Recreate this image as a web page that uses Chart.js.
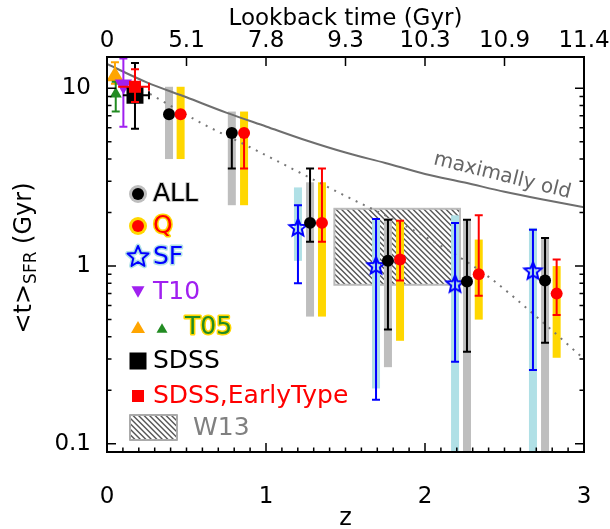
<!DOCTYPE html>
<html>
<head>
<meta charset="utf-8">
<script src="https://cdn.jsdelivr.net/npm/chart.js@4.4.0/dist/chart.umd.min.js"></script>
<style>
  html, body { margin: 0; padding: 0; background: #fff; }
</style>
</head>
<body>
<canvas id="chart" width="610" height="529"></canvas>
<script>
// values (z, <t>_SFR in Gyr)
const allZ = [0.39, 0.785, 1.277, 1.767, 2.264, 2.755];
const allT = [7.15, 5.6, 1.75, 1.07, 0.82, 0.83];
const allErrLo = [null, 3.54, 1.37, 0.44, 0.33, 0.37];
const allErrHi = [null, 5.6, 3.54, 1.82, 1.82, 1.44];
const allBandLo = [4.0, 2.2, 0.52, 0.27, 0.05, 0.05];
const allBandHi = [10.2, 7.4, 2.96, 1.86, 1.84, 1.43];

const qZ = [0.463, 0.862, 1.352, 1.843, 2.338, 2.828];
const qT = [7.15, 5.6, 1.75, 1.09, 0.90, 0.70];
const qErrLo = [null, 3.54, 1.37, 0.83, 0.68, 0.53];
const qErrHi = [null, 5.6, 3.54, 1.80, 1.93, 1.09];
const qBandLo = [4.0, 2.2, 0.52, 0.38, 0.50, 0.305];
const qBandHi = [10.2, 7.4, 2.96, 1.82, 1.41, 1.0];

const sfZ = [1.201, 1.692, 2.189, 2.679];
const sfT = [1.64, 1.0, 0.79, 0.935];
const sfErrLo = [0.80, 0.177, 0.29, 0.26];
const sfErrHi = [2.2, 1.84, 1.75, 1.6];
const sfBandLo = [1.07, 0.205, 0.05, 0.05];
const sfBandHi = [2.77, 1.86, 1.93, 1.64];

const t10Z = [0.103], t10T = [10.5], t10Lo = [6.07], t10Hi = [14.7];
const t05aZ = [0.05], t05aT = [11.7], t05aLo = [10.6], t05aHi = [14.0];
const t05bZ = [0.055], t05bT = [9.3], t05bLo = [7.4], t05bHi = [10.9];
const sdssZ = [0.176], sdssT = [9.14], sdssLo = [5.93], sdssHi = [13.9], sdssZLo = [0.1], sdssZHi = [0.264];
const etZ = [0.176], etT = [10.2], etLo = [8.37], etHi = [12.8], etZLo = [0.07], etZHi = [0.264];

const w13Z = [1.43, 2.22];
const w13T = [0.785, 2.1];

const maxOldZ = [0, 0.25, 0.5, 0.75, 1, 1.25, 1.5, 1.75, 2, 2.25, 2.5, 2.75, 3];
const maxOldT = [13.7, 10.8, 8.9, 7.3, 6.1, 5.1, 4.35, 3.8, 3.3, 2.95, 2.62, 2.36, 2.14];

const dotZ = [0.27, 0.6, 0.9, 1.2, 1.5, 1.8, 2.1, 2.4, 2.7, 3.0];
const dotT = [9.3, 6.33, 4.66, 3.4, 2.48, 1.83, 1.30, 0.87, 0.52, 0.30];

const zTicks = [0, 1, 2, 3];
const topTicks = [0, 0.5, 1, 1.5, 2, 2.5, 3];
const lookbackLabels = ['0', '5.1', '7.8', '9.3', '10.3', '10.9', '11.4'];
const yTicks = [0.1, 1, 10];

const FONT = 'DejaVu Sans';
const GRAY = '#bebebe', GOLD = '#ffd700', LBLUE = '#b0e0e6';
const PURPLE = '#a020f0', ORANGE = '#ffa500', GREEN = '#228b22';

function pts(xs, ys) {
    return xs.map((x, i) => ({ x: x, y: ys[i] }));
}

function starPath(g, cx, cy, R, r) {
    g.beginPath();
    for (let i = 0; i < 10; i++) {
        const a = -Math.PI / 2 + i * Math.PI / 5;
        const rr = i % 2 ? r : R;
        g.lineTo(cx + rr * Math.cos(a), cy + rr * Math.sin(a));
    }
    g.closePath();
}

function makeStar(R) {
    const c = document.createElement('canvas');
    c.width = c.height = Math.ceil(2 * R + 6);
    const g = c.getContext('2d');
    starPath(g, c.width / 2, c.height / 2, R, R * 0.45);
    g.strokeStyle = '#0000ff';
    g.lineWidth = 2;
    g.stroke();
    return c;
}

// shaded bands behind the points
const bandSets = [
    { z: sfZ, lo: sfBandLo, hi: sfBandHi, color: LBLUE },
    { z: allZ, lo: allBandLo, hi: allBandHi, color: GRAY },
    { z: qZ, lo: qBandLo, hi: qBandHi, color: GOLD }
];

const backgroundPlugin = {
    id: 'background',
    beforeDatasetsDraw(chart) {
        const ctx = chart.ctx, x = chart.scales.x, y = chart.scales.y, a = chart.chartArea;
        ctx.save();
        ctx.beginPath();
        ctx.rect(a.left, a.top, a.right - a.left, a.bottom - a.top);
        ctx.clip();

        // W13 hatched box
        const bx0 = x.getPixelForValue(w13Z[0]), bx1 = x.getPixelForValue(w13Z[1]);
        const by0 = y.getPixelForValue(w13T[1]), by1 = y.getPixelForValue(w13T[0]);
        ctx.save();
        ctx.beginPath();
        ctx.rect(bx0, by0, bx1 - bx0, by1 - by0);
        ctx.clip();
        ctx.strokeStyle = '#555';
        ctx.lineWidth = 1.4;
        for (let d = -(by1 - by0); d < bx1 - bx0; d += 5.5) {
            ctx.beginPath();
            ctx.moveTo(bx0 + d, by0);
            ctx.lineTo(bx0 + d + (by1 - by0), by1);
            ctx.stroke();
        }
        ctx.restore();
        ctx.strokeStyle = '#bbb';
        ctx.lineWidth = 2;
        ctx.strokeRect(bx0, by0, bx1 - bx0, by1 - by0);

        bandSets.forEach(b => {
            ctx.fillStyle = b.color;
            b.z.forEach((z, i) => {
                const px = x.getPixelForValue(z);
                const top = y.getPixelForValue(b.hi[i]);
                const bot = y.getPixelForValue(b.lo[i]);
                ctx.fillRect(px - 4, top, 8, bot - top);
            });
        });
        ctx.restore();
    }
};

const errorBarPlugin = {
    id: 'errorBars',
    beforeDatasetDraw(chart, args) {
        const ds = chart.data.datasets[args.index];
        if (!ds.err) return;
        const ctx = chart.ctx, x = chart.scales.x, y = chart.scales.y, a = chart.chartArea;
        const e = ds.err;
        ctx.save();
        ctx.beginPath();
        ctx.rect(a.left, a.top, a.right - a.left, a.bottom - a.top);
        ctx.clip();
        ctx.strokeStyle = e.color;
        ctx.lineWidth = 2;
        ds.data.forEach((p, i) => {
            if (e.lo[i] == null) return;
            const px = x.getPixelForValue(p.x);
            const yl = y.getPixelForValue(e.lo[i]);
            const yh = y.getPixelForValue(e.hi[i]);
            ctx.beginPath();
            ctx.moveTo(px, yl); ctx.lineTo(px, yh);
            ctx.moveTo(px - 4, yl); ctx.lineTo(px + 4, yl);
            if (e.hi[i] !== p.y) { ctx.moveTo(px - 4, yh); ctx.lineTo(px + 4, yh); }
            if (e.xlo) {
                const py = y.getPixelForValue(p.y);
                const xl = x.getPixelForValue(e.xlo[i]);
                const xh = x.getPixelForValue(e.xhi[i]);
                ctx.moveTo(xl, py); ctx.lineTo(xh, py);
                ctx.moveTo(xh, py - 4); ctx.lineTo(xh, py + 4);
            }
            ctx.stroke();
        });
        ctx.restore();
    }
};

function legendText(ctx, text, x, y, fill, outline, ow) {
    if (outline) {
        ctx.strokeStyle = outline;
        ctx.lineWidth = ow;
        ctx.lineJoin = 'round';
        ctx.strokeText(text, x, y);
    }
    ctx.fillStyle = fill;
    ctx.fillText(text, x, y);
}

function circle(ctx, x, y, r, color) {
    ctx.fillStyle = color;
    ctx.beginPath();
    ctx.arc(x, y, r, 0, Math.PI * 2);
    ctx.fill();
}

function triangle(ctx, x, y, w, color, down) {
    const h = w * 0.87, s = down ? -1 : 1;
    ctx.fillStyle = color;
    ctx.beginPath();
    ctx.moveTo(x, y - s * h / 2);
    ctx.lineTo(x + w / 2, y + s * h / 2);
    ctx.lineTo(x - w / 2, y + s * h / 2);
    ctx.closePath();
    ctx.fill();
}

const overlayPlugin = {
    id: 'overlay',
    afterDraw(chart) {
        const ctx = chart.ctx, x = chart.scales.x, y = chart.scales.y, a = chart.chartArea;
        ctx.save();

        // frame and inward ticks
        ctx.strokeStyle = '#000';
        ctx.lineWidth = 2;
        ctx.strokeRect(a.left, a.top, a.right - a.left, a.bottom - a.top);
        ctx.lineWidth = 1.5;
        ctx.beginPath();
        for (let k = 0; k <= 30; k++) {
            const px = x.getPixelForValue(k / 10);
            const len = k % 10 === 0 ? 9 : 4.5;
            ctx.moveTo(px, a.bottom); ctx.lineTo(px, a.bottom - len);
        }
        topTicks.forEach(v => {
            const px = x.getPixelForValue(v);
            ctx.moveTo(px, a.top); ctx.lineTo(px, a.top + 9);
        });
        for (let d = -2; d <= 1; d++) {
            for (let k = 1; k <= 9; k++) {
                const v = k * Math.pow(10, d);
                if (v < y.min || v > y.max) continue;
                const py = y.getPixelForValue(v);
                const len = k === 1 ? 9 : 4.5;
                ctx.moveTo(a.left, py); ctx.lineTo(a.left + len, py);
                ctx.moveTo(a.right, py); ctx.lineTo(a.right - len, py);
            }
        }
        ctx.stroke();

        // y axis title with subscript
        ctx.save();
        ctx.translate(31, 258);
        ctx.rotate(-Math.PI / 2);
        ctx.fillStyle = '#000';
        ctx.textBaseline = 'alphabetic';
        const big = '24px "' + FONT + '"', small = '17px "' + FONT + '"';
        ctx.font = big;
        const w1 = ctx.measureText('<t>').width;
        const w3 = ctx.measureText(' (Gyr)').width;
        ctx.font = small;
        const w2 = ctx.measureText('SFR').width;
        let cx = -(w1 + w2 + w3) / 2;
        ctx.font = big;
        ctx.fillText('<t>', cx, 0);
        cx += w1;
        ctx.font = small;
        ctx.fillText('SFR', cx, 5);
        cx += w2;
        ctx.font = big;
        ctx.fillText(' (Gyr)', cx, 0);
        ctx.restore();

        // label along the maximally-old curve
        ctx.save();
        ctx.translate(501, 181);
        ctx.rotate(14 * Math.PI / 180);
        ctx.font = '20px "' + FONT + '"';
        ctx.fillStyle = '#666';
        ctx.textAlign = 'center';
        ctx.fillText('maximally old', 0, 0);
        ctx.restore();

        // legend
        ctx.font = '25px "' + FONT + '"';
        ctx.textBaseline = 'middle';
        ctx.textAlign = 'left';
        const lx = 138, tx = 153;
        circle(ctx, lx, 194, 9, GRAY); circle(ctx, lx, 194, 6, '#000');
        legendText(ctx, 'ALL', tx, 194, '#000', '#ccc', 2);
        circle(ctx, lx, 226, 9, GOLD); circle(ctx, lx, 226, 6, '#f00');
        legendText(ctx, 'Q', tx, 226, '#f00', GOLD, 3);
        starPath(ctx, lx, 257, 11, 5);
        ctx.strokeStyle = LBLUE; ctx.lineWidth = 5; ctx.lineJoin = 'round'; ctx.stroke();
        starPath(ctx, lx, 257, 11, 5);
        ctx.strokeStyle = '#0000ff'; ctx.lineWidth = 2; ctx.stroke();
        legendText(ctx, 'SF', tx, 257, '#0000ff', LBLUE, 3);
        triangle(ctx, lx, 292, 13, PURPLE, true);
        legendText(ctx, 'T10', tx, 292, PURPLE);
        triangle(ctx, lx, 327, 14, ORANGE, false);
        triangle(ctx, 162, 328, 11, GREEN, false);
        legendText(ctx, 'T05', 185, 327, GREEN, GOLD, 3);
        ctx.fillStyle = '#000';
        ctx.fillRect(lx - 8.5, 361 - 8.5, 17, 17);
        legendText(ctx, 'SDSS', tx, 361, '#000');
        ctx.fillStyle = '#f00';
        ctx.fillRect(lx - 6, 396 - 6, 12, 12);
        legendText(ctx, 'SDSS,EarlyType', tx, 396, '#f00');
        // hatched legend box
        ctx.save();
        ctx.beginPath();
        ctx.rect(130, 415, 47, 25);
        ctx.clip();
        ctx.strokeStyle = '#555';
        ctx.lineWidth = 1.4;
        for (let d = -25; d < 47; d += 5.5) {
            ctx.beginPath();
            ctx.moveTo(130 + d, 415); ctx.lineTo(130 + d + 25, 440);
            ctx.stroke();
        }
        ctx.restore();
        ctx.strokeStyle = '#aaa';
        ctx.lineWidth = 2;
        ctx.strokeRect(130, 415, 47, 25);
        legendText(ctx, 'W13', 193, 428, '#808080');

        ctx.restore();
    }
};

// horizontal axes: fixed height and no extra room for labels at the ends
function fitX(height) {
    return s => {
        s.height = height;
        s.paddingLeft = 0;
        s.paddingRight = 0;
    };
}

const ctx = document.getElementById('chart').getContext('2d');
const starImg = makeStar(9);

new Chart(ctx, {
    type: 'scatter',
    data: {
        datasets: [
            {
                type: 'line', data: pts(maxOldZ, maxOldT), borderColor: '#6e6e6e', borderWidth: 2,
                pointRadius: 0, tension: 0.4, cubicInterpolationMode: 'monotone', order: 20
            },
            {
                type: 'line', data: pts(dotZ, dotT), borderColor: '#777', borderWidth: 2, borderDash: [2, 6],
                pointRadius: 0, tension: 0.4, cubicInterpolationMode: 'monotone', order: 19
            },
            {
                data: pts(sfZ, sfT), pointStyle: starImg, order: 12,
                err: { lo: sfErrLo, hi: sfErrHi, color: '#0000ff' }
            },
            {
                data: pts(allZ, allT), pointStyle: 'circle', pointRadius: 6, backgroundColor: '#000', borderWidth: 0, order: 11,
                err: { lo: allErrLo, hi: allErrHi, color: '#000' }
            },
            {
                data: pts(qZ, qT), pointStyle: 'circle', pointRadius: 6, backgroundColor: '#f00', borderWidth: 0, order: 10,
                err: { lo: qErrLo, hi: qErrHi, color: '#f00' }
            },
            {
                data: pts(t05aZ, t05aT), pointStyle: 'triangle', pointRadius: 10, backgroundColor: ORANGE, borderWidth: 0, order: 9,
                err: { lo: t05aLo, hi: t05aHi, color: ORANGE }
            },
            {
                data: pts(t05bZ, t05bT), pointStyle: 'triangle', pointRadius: 7, backgroundColor: GREEN, borderWidth: 0, order: 8,
                err: { lo: t05bLo, hi: t05bHi, color: GREEN }
            },
            {
                data: pts(t10Z, t10T), pointStyle: 'triangle', pointRotation: 180, pointRadius: 10, backgroundColor: PURPLE,
                borderWidth: 0, order: 7, err: { lo: t10Lo, hi: t10Hi, color: PURPLE }
            },
            {
                data: pts(sdssZ, sdssT), pointStyle: 'rect', pointRadius: 12, backgroundColor: '#000', borderWidth: 0, order: 6,
                err: { lo: sdssLo, hi: sdssHi, xlo: sdssZLo, xhi: sdssZHi, color: '#000' }
            },
            {
                data: pts(etZ, etT), pointStyle: 'rect', pointRadius: 8.5, backgroundColor: '#f00', borderWidth: 0, order: 5,
                err: { lo: etLo, hi: etHi, xlo: etZLo, xhi: etZHi, color: '#f00' }
            }
        ]
    },
    options: {
        responsive: false,
        animation: false,
        devicePixelRatio: 1,
        layout: { padding: 0 },
        plugins: { legend: { display: false }, tooltip: { enabled: false } },
        scales: {
            x: {
                type: 'linear', position: 'bottom', min: 0, max: 3,
                afterBuildTicks: s => { s.ticks = zTicks.map(v => ({ value: v })); },
                afterFit: fitX(77),
                grid: { display: false }, border: { display: false },
                ticks: { font: { family: FONT, size: 23 }, color: '#000', padding: 23, maxRotation: 0, autoSkip: false },
                title: { display: true, text: 'z', font: { family: FONT, size: 24 }, color: '#000', padding: { top: 0, bottom: -4 } }
            },
            x2: {
                type: 'linear', position: 'top', min: 0, max: 3,
                afterBuildTicks: s => { s.ticks = topTicks.map(v => ({ value: v })); },
                afterFit: fitX(57),
                grid: { display: false }, border: { display: false },
                ticks: {
                    font: { family: FONT, size: 23 }, color: '#000', padding: -6, maxRotation: 0, autoSkip: false,
                    callback: (v, i) => lookbackLabels[i]
                },
                title: {
                    display: true, text: 'Lookback time (Gyr)', font: { family: FONT, size: 23 }, color: '#000',
                    padding: { top: 5, bottom: 0 }
                }
            },
            y: {
                type: 'logarithmic', min: 0.09, max: 15,
                afterBuildTicks: s => { s.ticks = yTicks.map(v => ({ value: v })); },
                afterFit: s => { s.width = 107; },
                grid: { display: false }, border: { display: false },
                ticks: { font: { family: FONT, size: 23 }, color: '#000', padding: 8, callback: v => String(v) }
            },
            yR: {
                type: 'linear', position: 'right', display: true,
                afterFit: s => { s.width = 26; },
                grid: { display: false }, border: { display: false },
                ticks: { display: false }
            }
        }
    },
    plugins: [backgroundPlugin, errorBarPlugin, overlayPlugin]
});
</script>
</body>
</html>
